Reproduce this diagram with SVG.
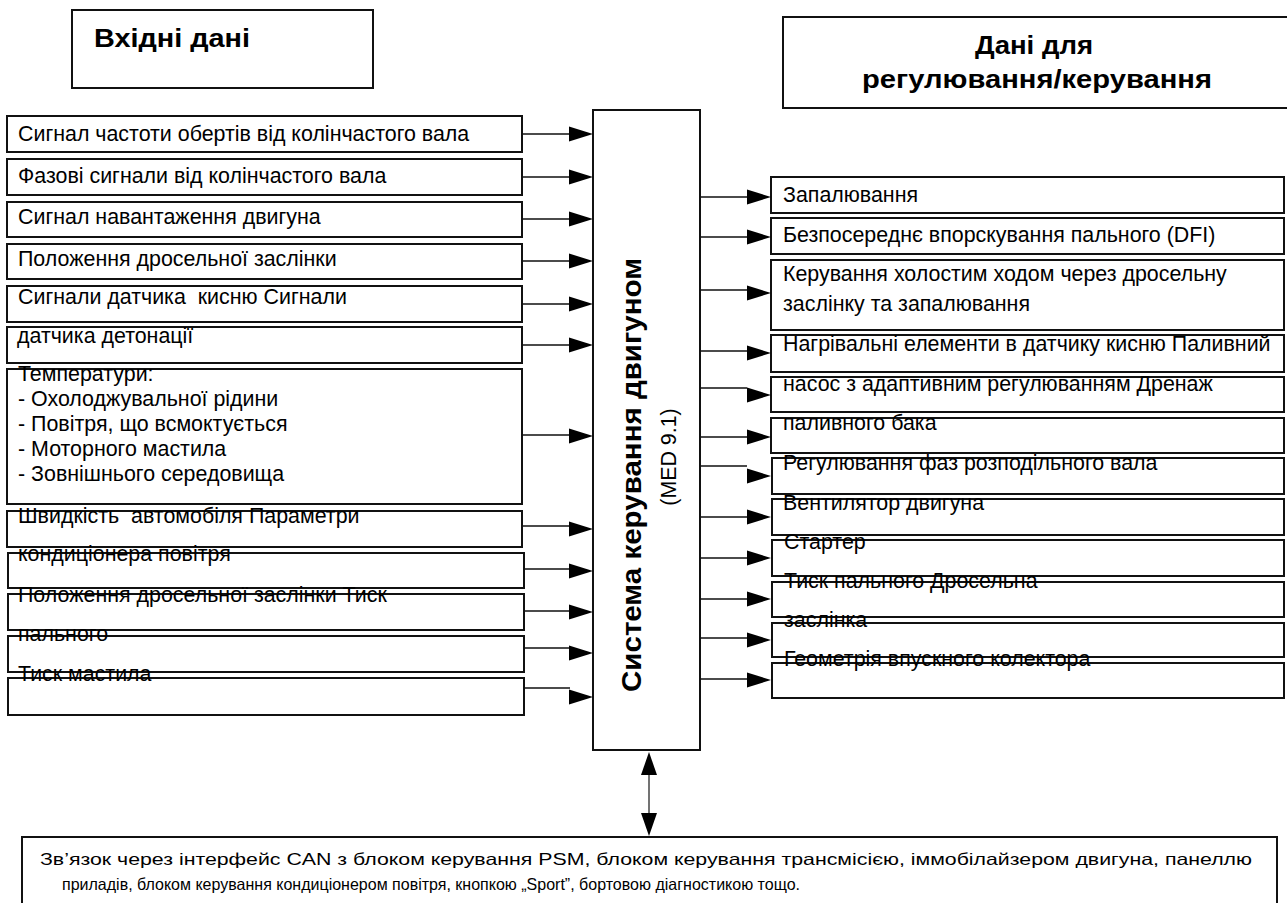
<svg xmlns="http://www.w3.org/2000/svg" width="1287" height="903" viewBox="0 0 1287 903">
<style>
.box{fill:#fff;stroke:#111;stroke-width:2}
.ln{stroke:#111;stroke-width:1.6;fill:none}
.t{font-family:"Liberation Sans",Arial,sans-serif;font-size:21.4px;fill:#000;white-space:pre}
.tb{font-family:"Liberation Sans",Arial,sans-serif;font-weight:bold;fill:#000}
.ts{font-family:"Liberation Sans",Arial,sans-serif;font-size:16.5px;fill:#000}
.ah{fill:#000}
</style>
<defs>
<polygon id="ah" points="0,0 -24,-7.5 -24,7.5"/>
</defs>
<rect width="1287" height="903" fill="#fff"/>

<g id="hdr-in">
<rect class="box" x="72" y="10" width="301" height="78"/>
<text class="tb" x="94" y="47" font-size="26" textLength="156" lengthAdjust="spacingAndGlyphs">Вхідні дані</text>
</g>
<g id="hdr-out">
<rect class="box" x="783" y="17" width="520" height="91"/>
<text class="tb" x="975" y="54" font-size="26" textLength="118" lengthAdjust="spacingAndGlyphs">Дані для</text>
<text class="tb" x="862" y="88" font-size="26" textLength="350" lengthAdjust="spacingAndGlyphs">регулювання/керування</text>
</g>

<g id="ecu">
<rect class="box" x="593" y="110" width="107" height="640"/>
<text class="tb" font-size="28" x="-692" y="641" transform="rotate(-90)" textLength="434" lengthAdjust="spacingAndGlyphs">Система керування двигуном</text>
<text class="t" text-anchor="middle" transform="translate(676,457) rotate(-90)">(MED 9.1)</text>
</g>

<g id="in1"><rect class="box" x="7" y="116" width="515" height="36"/><text class="t" x="18" y="141">Сигнал частоти обертів від колінчастого вала</text></g>
<g id="in2"><rect class="box" x="7" y="159" width="515" height="36"/><text class="t" x="18" y="183">Фазові сигнали від колінчастого вала</text></g>
<g id="in3"><rect class="box" x="7" y="202" width="515" height="35"/><text class="t" x="18" y="224">Сигнал навантаження двигуна</text></g>
<g id="in4"><rect class="box" x="7" y="244" width="515" height="35"/><text class="t" x="18" y="266">Положення дросельної заслінки</text></g>
<g id="in5"><rect class="box" x="7" y="286" width="515" height="36"/><text class="t" x="18" y="304">Сигнали датчика  кисню Сигнали</text></g>
<g id="in6"><rect class="box" x="7" y="327" width="515" height="36"/><text class="t" x="17" y="343">датчика детонації</text></g>
<g id="in7"><rect class="box" x="7" y="369" width="515" height="135"/>
<text class="t" x="18" y="381">Температури:</text>
<text class="t" x="18" y="406">- Охолоджувальної рідини</text>
<text class="t" x="18" y="431">- Повітря, що всмоктується</text>
<text class="t" x="18" y="456">- Моторного мастила</text>
<text class="t" x="18" y="481">- Зовнішнього середовища</text></g>
<g id="in8"><rect class="box" x="7" y="511" width="515" height="36"/><text class="t" x="18" y="523">Швидкість  автомобіля Параметри</text></g>
<g id="in9"><rect class="box" x="8" y="553" width="516" height="35"/><text class="t" x="18" y="561">кондиціонера повітря</text></g>
<g id="in10"><rect class="box" x="8" y="594" width="516" height="36"/><text class="t" x="18" y="602">Положення дросельної заслінки Тиск</text></g>
<g id="in11"><rect class="box" x="8" y="636" width="516" height="36"/><text class="t" x="18" y="641">пального</text></g>
<g id="in12"><rect class="box" x="8" y="678" width="516" height="37"/><text class="t" x="18" y="681">Тиск мастила</text></g>

<g id="out1"><rect class="box" x="771" y="177" width="513" height="36"/><text class="t" x="783" y="202">Запалювання</text></g>
<g id="out2"><rect class="box" x="771" y="218" width="513" height="36"/><text class="t" x="783" y="242">Безпосереднє впорскування пального (DFI)</text></g>
<g id="out3"><rect class="box" x="771" y="260" width="513" height="70"/><text class="t" x="783" y="281">Керування холостим ходом через дросельну</text><text class="t" x="783" y="311">заслінку та запалювання</text></g>
<g id="out4"><rect class="box" x="771" y="335" width="513" height="37"/><text class="t" x="783" y="351">Нагрівальні елементи в датчику кисню Паливний</text></g>
<g id="out5"><rect class="box" x="771" y="377" width="513" height="35"/><text class="t" x="783" y="391">насос з адаптивним регулюванням Дренаж</text></g>
<g id="out6"><rect class="box" x="771" y="418" width="513" height="35"/><text class="t" x="783" y="430">паливного бака</text></g>
<g id="out7"><rect class="box" x="772" y="458" width="512" height="36"/><text class="t" x="783" y="470">Регулювання фаз розподільного вала</text></g>
<g id="out8"><rect class="box" x="772" y="499" width="512" height="36"/><text class="t" x="783" y="510">Вентилятор двигуна</text></g>
<g id="out9"><rect class="box" x="772" y="540" width="512" height="36"/><text class="t" x="784" y="549">Стартер</text></g>
<g id="out10"><rect class="box" x="772" y="582" width="512" height="35"/><text class="t" x="784" y="588">Тиск пального Дросельна</text></g>
<g id="out11"><rect class="box" x="772" y="623" width="512" height="34"/><text class="t" x="784" y="627">заслінка</text></g>
<g id="out12"><rect class="box" x="772" y="663" width="512" height="35"/><text class="t" x="784" y="666">Геометрія впускного колектора</text></g>

<g id="can">
<rect class="box" x="22" y="837" width="1255" height="80"/>
<text class="ts" x="40" y="865" textLength="1212" lengthAdjust="spacingAndGlyphs">Зв’язок через інтерфейс CAN з блоком керування PSM, блоком керування трансмісією, іммобілайзером двигуна, панеллю</text>
<text class="ts" x="62" y="890" textLength="738" lengthAdjust="spacingAndGlyphs">приладів, блоком керування кондиціонером повітря, кнопкою „Sport”, бортовою діагностикою тощо.</text>
</g>

<g id="connectors">
<path class="ln" d="M522 134H570M522 177H570M522 219H570M522 261H570M522 304H570M522 345H570M522 435H570M522 526H570M524 569H570M524 611H570M524 648H570M524 688H570"/>
<g class="ah">
<use href="#ah" x="593" y="134"/><use href="#ah" x="593" y="177"/><use href="#ah" x="593" y="219"/><use href="#ah" x="593" y="261"/><use href="#ah" x="593" y="304"/><use href="#ah" x="593" y="345"/><use href="#ah" x="593" y="436"/><use href="#ah" x="593" y="529"/><use href="#ah" x="593" y="571"/><use href="#ah" x="593" y="612"/><use href="#ah" x="593" y="653"/><use href="#ah" x="593" y="697"/>
</g>
<path class="ln" d="M700 197H747M700 237H747M700 290H747M700 351H747M700 388H747M700 437H747M700 466H747M700 517H747M700 558H747M700 599H747M700 638H747M700 679H747"/>
<g class="ah">
<use href="#ah" x="771" y="197"/><use href="#ah" x="771" y="237"/><use href="#ah" x="771" y="293"/><use href="#ah" x="771" y="353"/><use href="#ah" x="771" y="395"/><use href="#ah" x="771" y="437"/><use href="#ah" x="771" y="476"/><use href="#ah" x="771" y="517"/><use href="#ah" x="771" y="558"/><use href="#ah" x="771" y="599"/><use href="#ah" x="771" y="640"/><use href="#ah" x="771" y="680"/>
</g>
<line x1="649" y1="772" x2="649" y2="816" stroke="#444" stroke-width="1.5"/>
<polygon class="ah" points="649,752 641,775 657,775"/>
<polygon class="ah" points="649,836 641,813 657,813"/>
</g>
</svg>
